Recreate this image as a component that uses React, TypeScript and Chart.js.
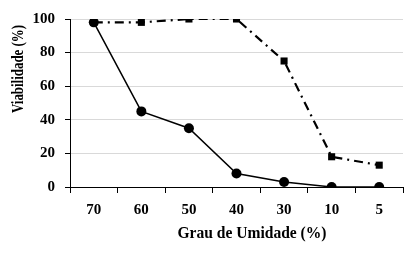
import React, { useEffect, useRef } from "react";
import { Chart, registerables } from "chart.js";

Chart.register(...registerables);

const categories = ["70", "60", "50", "40", "30", "10", "5"];
const solidSeries = [98, 45, 35, 8, 3, 0, 0];
const dashedSeries = [98, 98, 100, 100, 75, 18, 13];
const yTicks = [0, 20, 40, 60, 80, 100];
const xTitle = "Grau de Umidade (%)";
const yTitle = "Viabilidade (%)";

const FONT = "'Liberation Serif', 'Times New Roman', serif";

function drawFitted(ctx: any, text: string, x: number, y: number, targetWidth: number, size: number, rotate: boolean) {
  ctx.save();
  ctx.font = `bold ${size}px ${FONT}`;
  ctx.fillStyle = "#000";
  ctx.textAlign = "center";
  ctx.textBaseline = "middle";
  const w = ctx.measureText(text).width;
  ctx.translate(x, y);
  if (rotate) ctx.rotate(-Math.PI / 2);
  ctx.scale(targetWidth / w, 1);
  ctx.fillText(text, 0, 0);
  ctx.restore();
}

const titlesPlugin = {
  id: "titlesPlugin",
  afterDraw(chart: any) {
    const ctx = chart.ctx;
    drawFitted(ctx, xTitle, 252, 234, 149, 17, false);
    drawFitted(ctx, yTitle, 19, 69, 88, 17, true);
  },
};

export default function App() {
  const ref = useRef<HTMLCanvasElement | null>(null);
  useEffect(() => {
    if (!ref.current) return;
    const chart = new Chart(ref.current, {
      type: "line",
      data: {
        labels: categories,
        datasets: [
          {
            label: "solid",
            data: solidSeries,
            borderColor: "#000",
            backgroundColor: "#000",
            borderWidth: 1.5,
            pointStyle: "circle",
            pointRadius: 5,
            pointBorderWidth: 0,
            tension: 0,
          },
          {
            label: "dashed",
            data: dashedSeries,
            borderColor: "#000",
            backgroundColor: "#000",
            borderWidth: 2.2,
            borderDash: [9, 5, 2, 5],
            pointStyle: "rect",
            pointRadius: 5,
            pointBorderWidth: 0,
            tension: 0,
          },
        ],
      },
      options: {
        animation: false,
        responsive: false,
        maintainAspectRatio: false,
        layout: { padding: { top: 14, right: 1, left: 0, bottom: 0 } },
        plugins: { legend: { display: false }, tooltip: { enabled: false }, title: { display: false } },
        scales: {
          x: {
            type: "category",
            offset: true,
            grid: {
              offset: true,
              drawOnChartArea: false,
              tickColor: "#000",
              tickLength: 6,
              lineWidth: 1,
            },
            border: { color: "#000", width: 1 },
            ticks: {
              color: "#000",
              padding: 8,
              font: { family: FONT, size: 15, weight: "bold" },
              maxRotation: 0,
              autoSkip: false,
            },
            afterFit(scale: any) {
              scale.height = 71;
            },
          },
          y: {
            min: 0,
            max: 100,
            afterBuildTicks(scale: any) {
              scale.ticks = yTicks.map((v) => ({ value: v }));
            },
            grid: {
              color: "#d9d9d9",
              tickColor: "#000",
              tickLength: 5,
              lineWidth: 1,
            },
            border: { color: "#000", width: 1 },
            ticks: {
              color: "#000",
              padding: 10,
              font: { family: FONT, size: 15, weight: "bold" },
            },
            afterFit(scale: any) {
              scale.width = 70;
            },
          },
        },
      },
      plugins: [titlesPlugin],
    } as any);
    return () => chart.destroy();
  }, []);
  return (
    <div style={{ position: "absolute", left: 0, top: 0, width: 408, height: 258, background: "#fff" }}>
      <canvas ref={ref} width={408} height={258} style={{ display: "block" }} />
    </div>
  );
}
